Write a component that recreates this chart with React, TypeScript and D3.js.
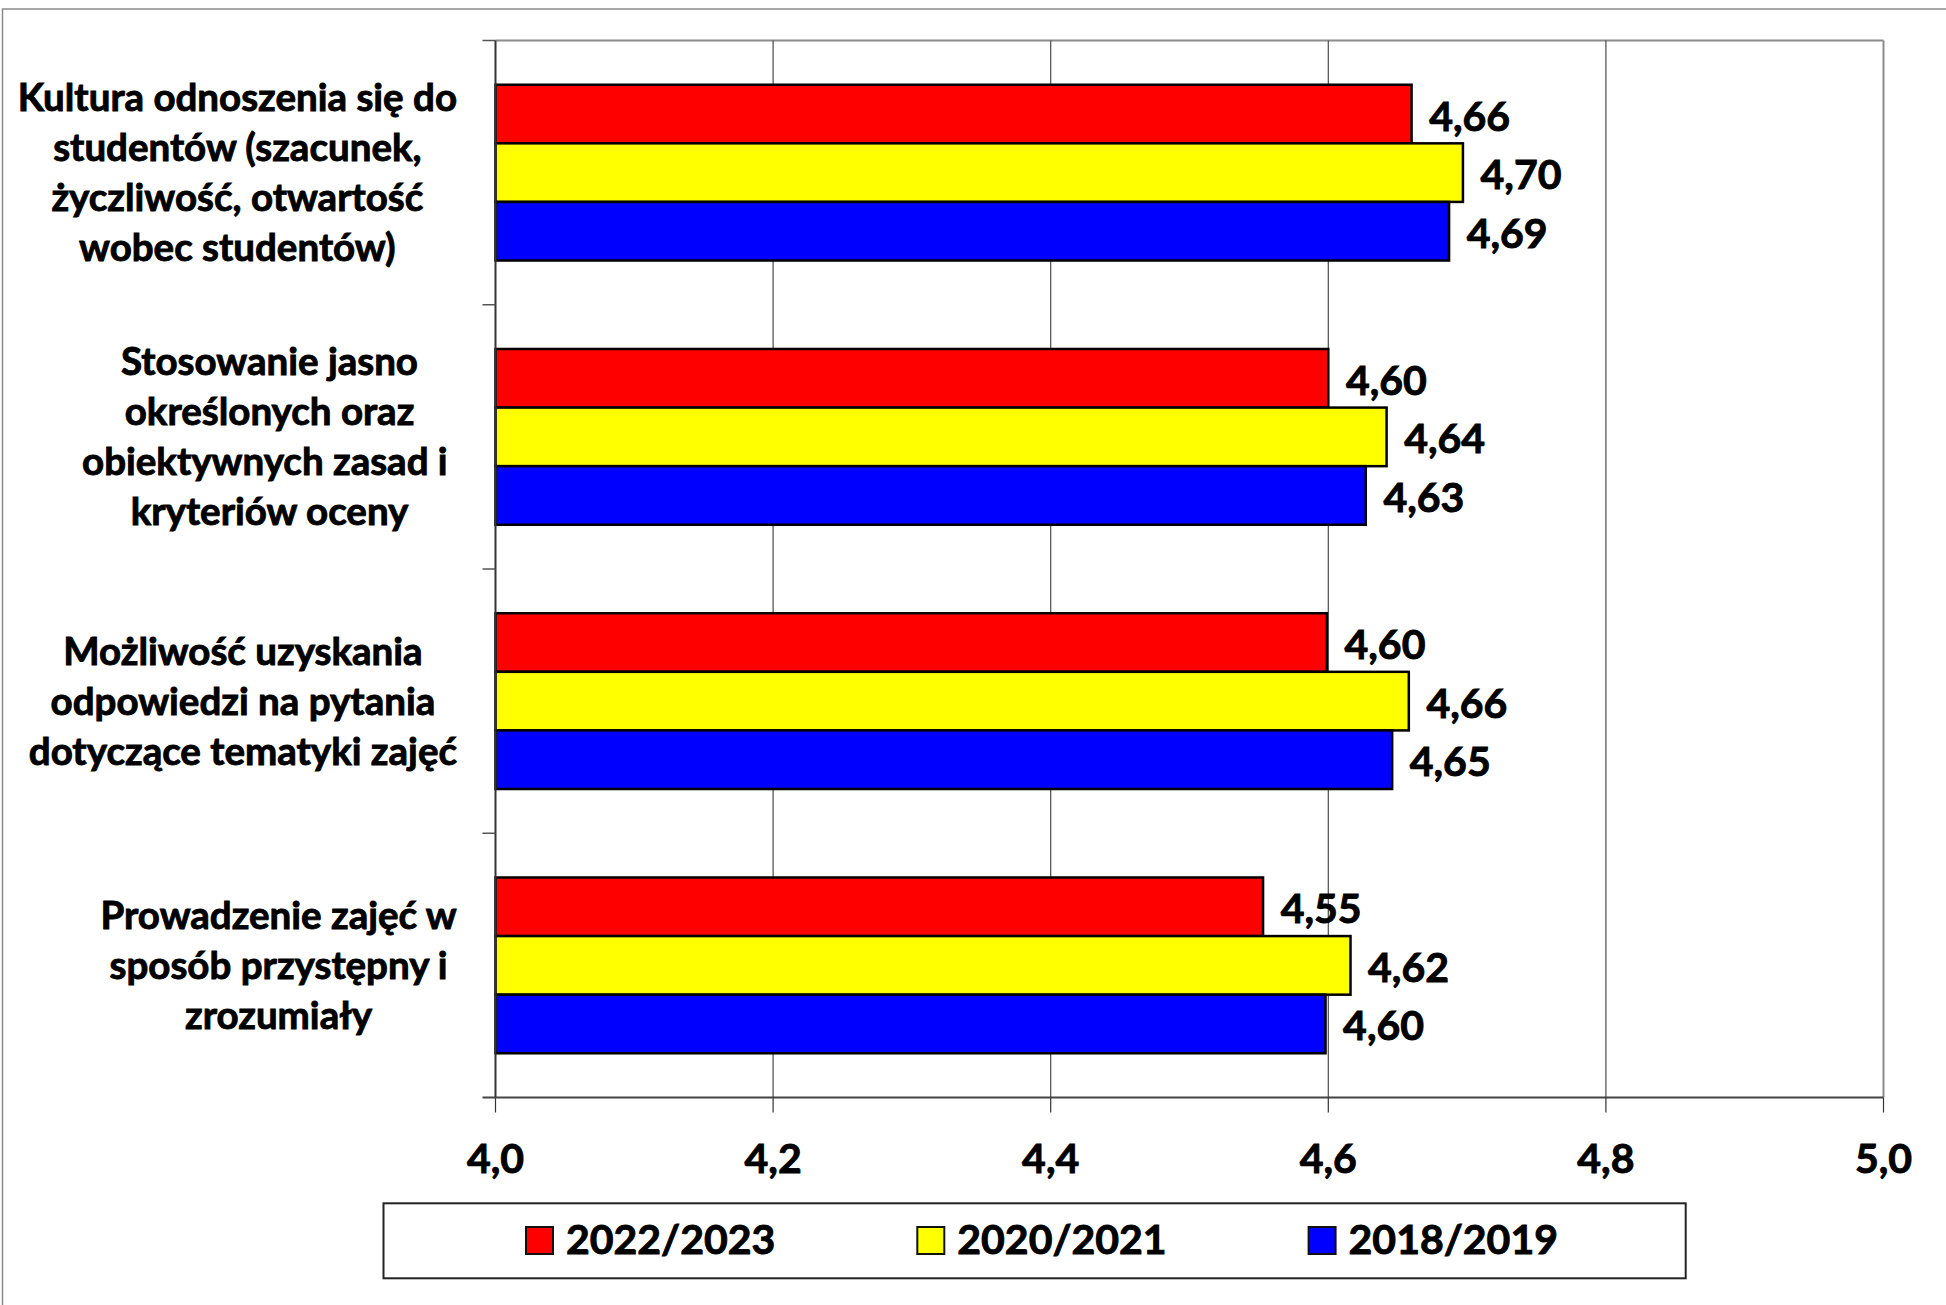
import React, { useMemo } from "react";
import * as d3 from "d3";

const categoryLines: string[][] = [
  ["Kultura odnoszenia się do", "studentów (szacunek,", "życzliwość, otwartość", "wobec studentów)"],
  ["Stosowanie jasno", "określonych oraz", "obiektywnych zasad i ", "kryteriów oceny"],
  ["Możliwość uzyskania", "odpowiedzi na pytania", "dotyczące tematyki zajęć"],
  ["Prowadzenie zajęć w", "sposób przystępny i", "zrozumiały"],
];
const categories = ["c1", "c2", "c3", "c4"];
const seriesNames = ["2022/2023", "2020/2021", "2018/2019"];
const seriesColors = ["#FF0000", "#FFFF00", "#0000FF"];
const values2022 = [4.66, 4.6, 4.599, 4.553];
const values2020 = [4.697, 4.642, 4.658, 4.616];
const values2018 = [4.687, 4.627, 4.646, 4.598];
const seriesValues = [values2022, values2020, values2018];
const xTicks = [4.0, 4.2, 4.4, 4.6, 4.8, 5.0];

const W = 1946;
const H = 1305;
const FONT = "Lato, 'Open Sans', 'DejaVu Sans', sans-serif";

export default function App() {
  const left = 495.5;
  const right = 1883.5;
  const top = 40.5;
  const bottom = 1097.5;

  const x = d3.scaleLinear().domain([4.0, 5.0]).range([left, right]);
  const y0 = d3.scaleBand<string>().domain(categories).range([top, bottom]).padding(0);
  const y1 = d3
    .scaleBand<string>()
    .domain(seriesNames)
    .range([0, y0.bandwidth()])
    .paddingInner(0)
    .paddingOuter(0.755);

  const catFontSize = 38.5;
  const valFontSize = 41;
  const textStroke = 0.9;

  const measures = useMemo(() => {
    const c = document.createElement("canvas").getContext("2d");
    if (!c) return categoryLines.map((ls) => ls.map(() => ({ full: 400, trim: 400 })));
    c.font = `bold ${catFontSize}px Lato`;
    return categoryLines.map((ls) =>
      ls.map((l) => ({ full: c.measureText(l).width, trim: c.measureText(l.trim()).width }))
    );
  }, []);

  const fmt = (v: number) => v.toFixed(2).replace(".", ",");
  const labelRight = 457;
  const lineH = 50;

  const legendLeft = 383.5;
  const legendRight = 1685.7;
  const legendTop = 1203.3;
  const legendBottom = 1278.3;
  const legendX = d3.scaleLinear().domain([0, 1]).range([526, 917.3]);

  return (
    <svg
      width={W}
      height={H}
      style={{ position: "absolute", left: 0, top: 0, background: "#fff" }}
      fontFamily={FONT}
    >
      <rect x={0} y={0} width={W} height={H} fill="#fff" />
      {/* outer chart border */}
      <rect x={2.5} y={9} width={W + 20} height={H + 20} fill="none" stroke="#8a8a8a" strokeWidth={1.5} />

      {/* plot border (top & right) */}
      <line x1={left} x2={right} y1={top} y2={top} stroke="#8c8c8c" strokeWidth={2} />
      <line x1={right} x2={right} y1={top} y2={bottom} stroke="#8c8c8c" strokeWidth={2} />

      {/* vertical gridlines */}
      {xTicks.slice(1, -1).map((t) => (
        <line key={"g" + t} x1={x(t)} x2={x(t)} y1={top} y2={bottom} stroke="#4a4a4a" strokeWidth={1.2} />
      ))}

      {/* bars */}
      {categories.map((c, ci) =>
        seriesNames.map((s, si) => {
          const v = seriesValues[si][ci];
          const yy = (y0(c) as number) + (y1(s) as number);
          return (
            <rect
              key={c + s}
              x={x(4.0)}
              y={yy}
              width={x(v) - x(4.0)}
              height={y1.bandwidth()}
              fill={seriesColors[si]}
              stroke="#000"
              strokeWidth={2.5}
            />
          );
        })
      )}

      {/* axes */}
      <line x1={left} x2={left} y1={top} y2={bottom} stroke="#333" strokeWidth={2} />
      <line x1={left - 13} x2={right} y1={bottom} y2={bottom} stroke="#444" strokeWidth={2} />
      {categories.map((c, i) => (
        <line
          key={"yt" + i}
          x1={left - 13}
          x2={left}
          y1={y0(c) as number}
          y2={y0(c) as number}
          stroke="#555"
          strokeWidth={1.5}
        />
      ))}
      {xTicks.map((t) => (
        <line key={"xt" + t} x1={x(t)} x2={x(t)} y1={bottom} y2={bottom + 15} stroke="#333" strokeWidth={1.2} />
      ))}

      {/* value labels */}
      {categories.map((c, ci) =>
        seriesNames.map((s, si) => {
          const v = seriesValues[si][ci];
          const cy = (y0(c) as number) + (y1(s) as number) + y1.bandwidth() / 2;
          return (
            <text
              key={"v" + c + s}
              x={x(v) + 17.6}
              y={cy + 16.5}
              fontSize={valFontSize}
              fontWeight="bold"
              fill="#000"
              stroke="#000"
              strokeWidth={textStroke}
            >
              {fmt(v)}
            </text>
          );
        })
      )}

      {/* category labels */}
      {categories.map((c, ci) => {
        const lines = categoryLines[ci];
        const ms = measures[ci];
        const maxW = Math.max(...ms.map((m) => m.full));
        const cx = labelRight - maxW / 2;
        const center = (y0(c) as number) + y0.bandwidth() / 2;
        const first = center - ((lines.length - 1) / 2) * lineH + 13.5;
        return (
          <text
            key={"cl" + ci}
            fontSize={catFontSize}
            fontWeight="bold"
            textAnchor="middle"
            fill="#000"
            stroke="#000"
            strokeWidth={textStroke}
          >
            {lines.map((l, li) => (
              <tspan key={li} x={cx - (ms[li].full - ms[li].trim) / 2} y={first + li * lineH}>
                {l.trim()}
              </tspan>
            ))}
          </text>
        );
      })}

      {/* x tick labels */}
      {xTicks.map((t) => (
        <text
          key={"xl" + t}
          x={x(t)}
          y={1173}
          fontSize={valFontSize}
          fontWeight="bold"
          textAnchor="middle"
          fill="#000"
          stroke="#000"
          strokeWidth={textStroke}
        >
          {t.toFixed(1).replace(".", ",")}
        </text>
      ))}

      {/* legend */}
      <rect
        x={legendLeft}
        y={legendTop}
        width={legendRight - legendLeft}
        height={legendBottom - legendTop}
        fill="#fff"
        stroke="#222"
        strokeWidth={2}
      />
      {seriesNames.map((s, si) => (
        <g key={"lg" + s}>
          <rect x={legendX(si)} y={1227} width={27} height={27} fill={seriesColors[si]} stroke="#111" strokeWidth={2} />
          <text
            x={legendX(si) + 40}
            y={1254}
            fontSize={valFontSize}
            fontWeight="bold"
            fill="#000"
            stroke="#000"
            strokeWidth={textStroke}
          >
            {s}
          </text>
        </g>
      ))}
    </svg>
  );
}
